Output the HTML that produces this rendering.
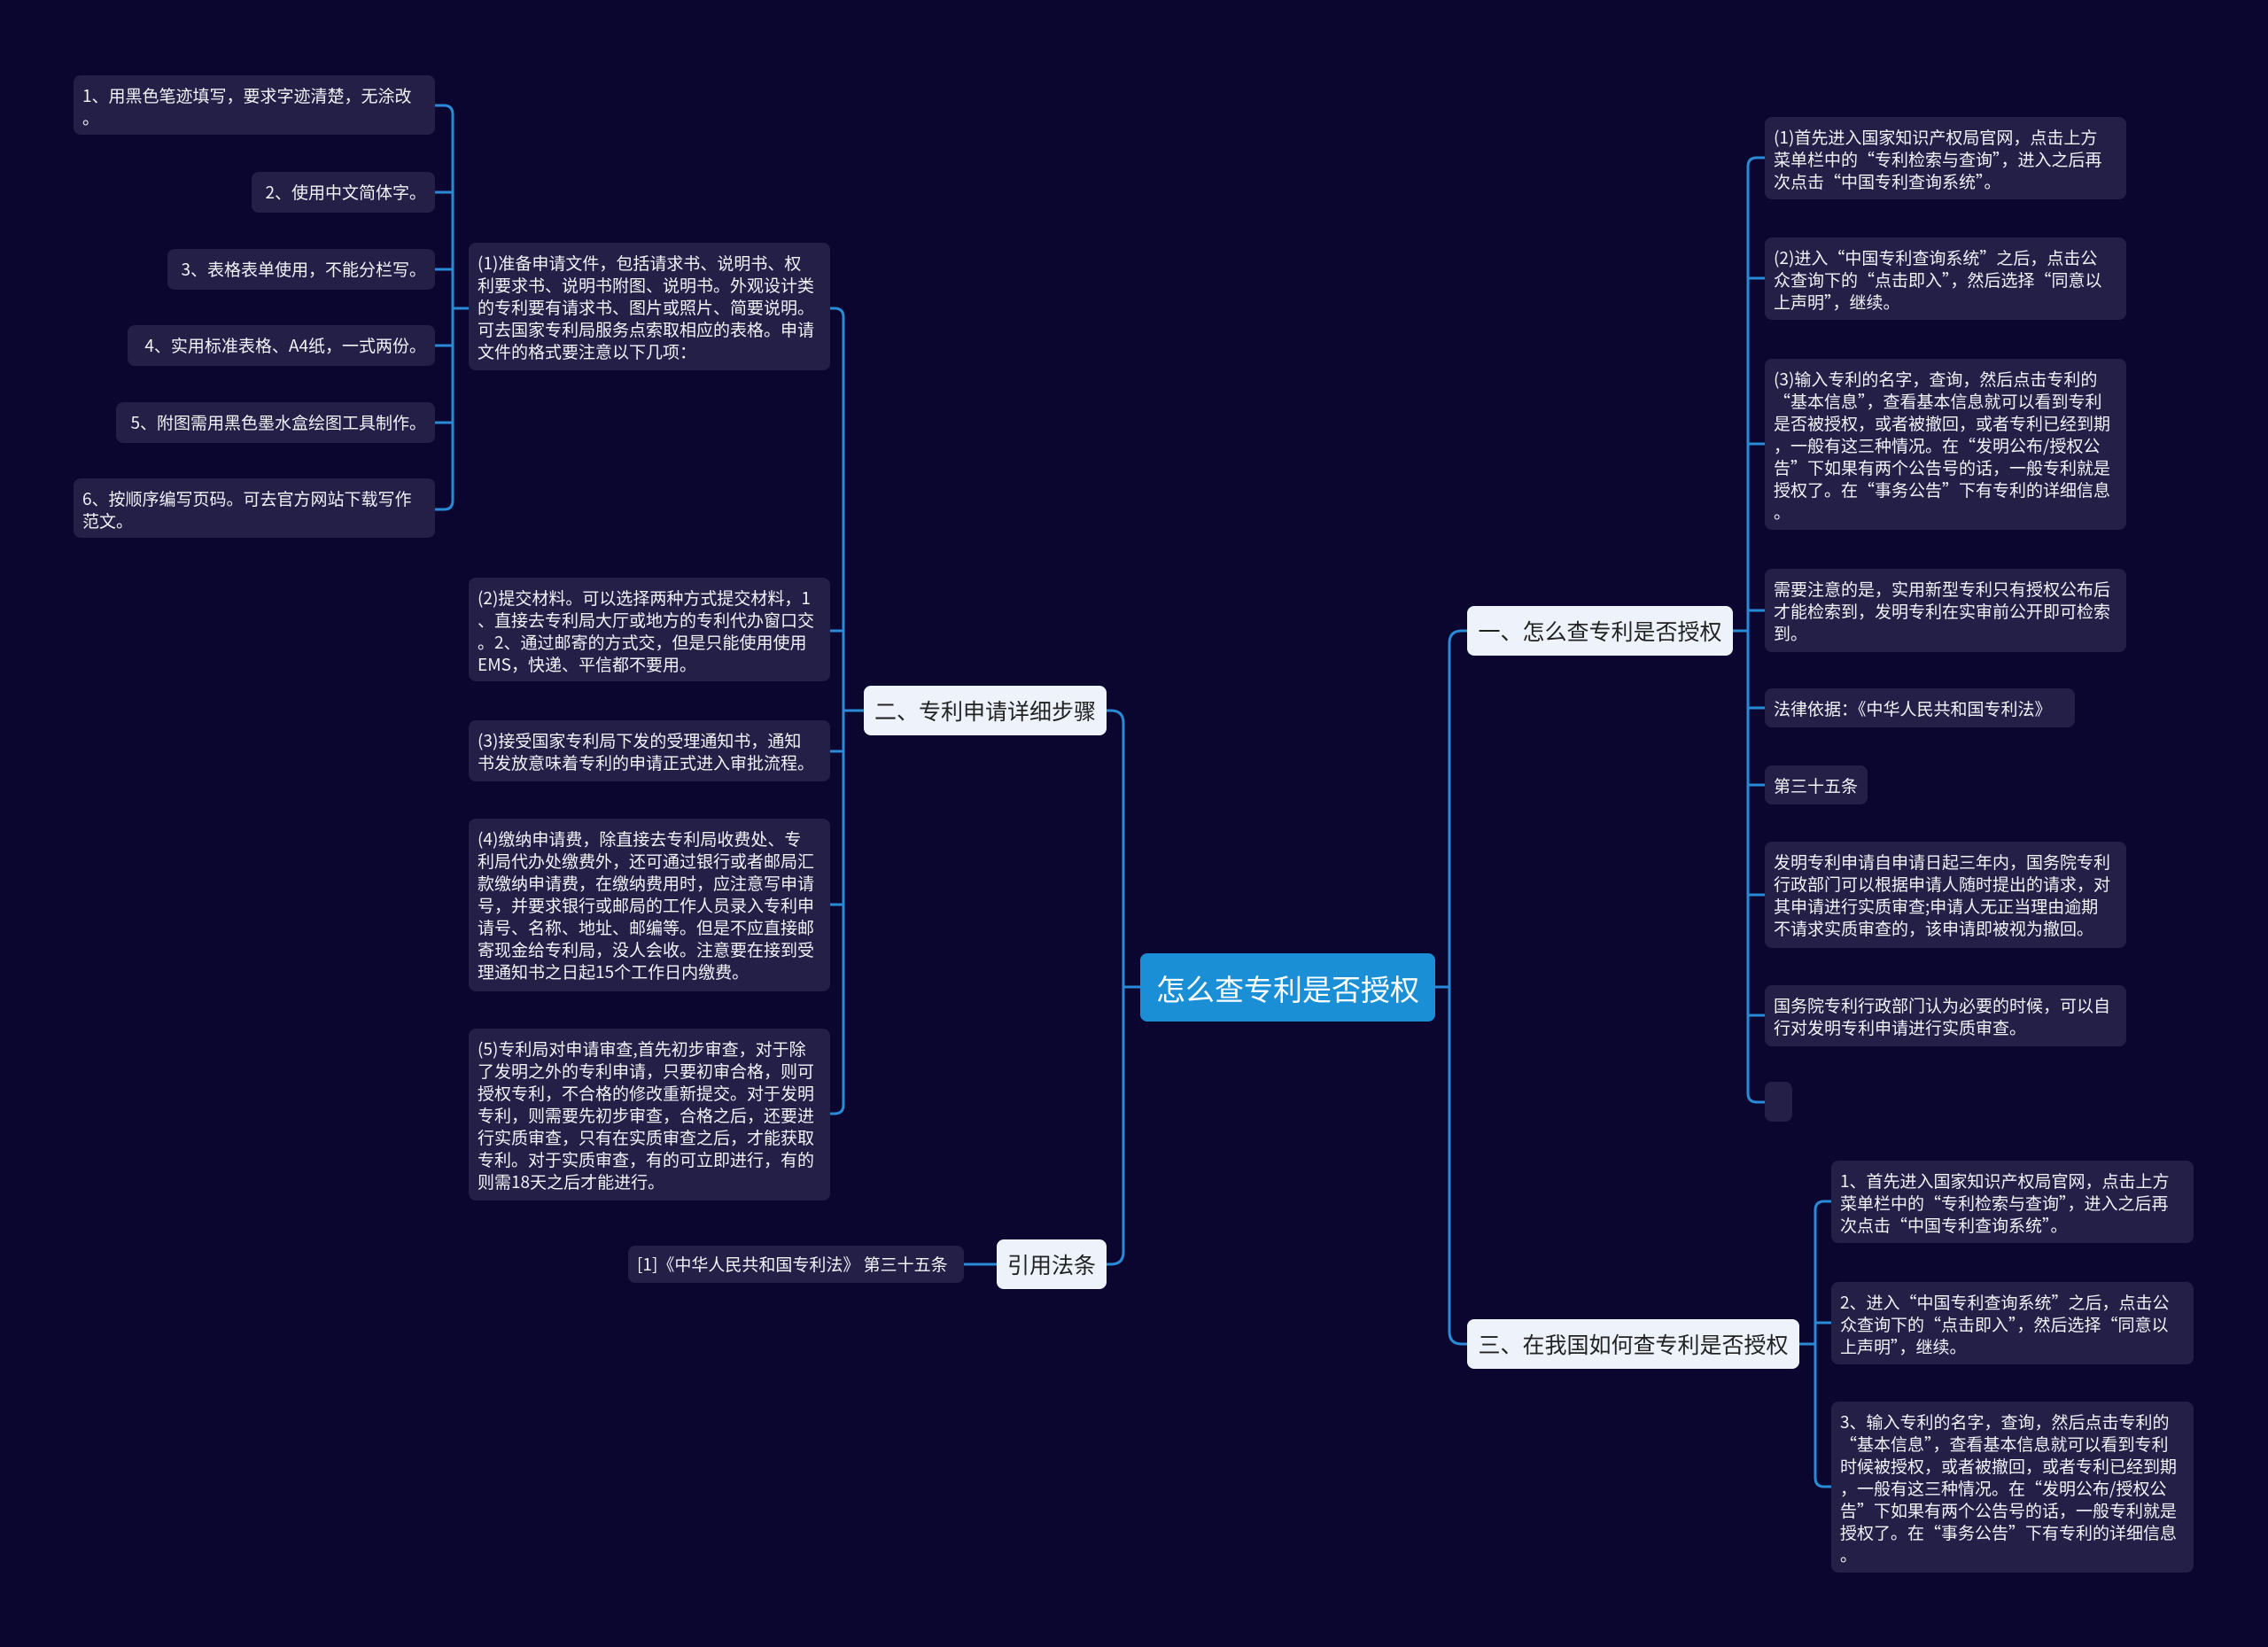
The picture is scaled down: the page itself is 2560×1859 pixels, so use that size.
<!DOCTYPE html>
<html><head><meta charset="utf-8"><style>
body{margin:0;width:2560px;height:1859px;background:#0a0630;overflow:hidden;position:relative;font-family:"Noto Sans CJK SC","Liberation Sans",sans-serif}
.n{position:absolute;box-sizing:border-box;background:#231f47;color:#f2f2f8;font-size:19px;line-height:25px;padding:10px 10px 8px;border-radius:8px;white-space:nowrap;overflow:hidden}
.r{text-align:right}
.b{position:absolute;box-sizing:border-box;background:#eef3fb;color:#222;font-size:25px;border-radius:8px;display:flex;align-items:center;justify-content:center;white-space:nowrap}
svg{position:absolute;left:0;top:0}
</style></head><body>
<svg width="2560" height="1859" fill="none" stroke="#2a8ad6" stroke-width="3">
<path d="M1620 1114 H1636 M1656 712 H1650 Q1636 712 1636 726 V1503 Q1636 1517 1650 1517 H1656"/>
<path d="M1287 1114 H1268 M1249 802 H1254 Q1268 802 1268 816 V1413 Q1268 1427 1254 1427 H1249"/>
<path d="M975 802 H952 M937 348 H942 Q952 348 952 358 V1247 Q952 1257 942 1257 H937 M937 712 H952 M937 848 H952 M937 1021 H952"/>
<path d="M529 348 H511 M491 119 H501 Q511 119 511 129 V565 Q511 575 501 575 H491 M491 217 H511 M491 304 H511 M491 390 H511 M491 477 H511"/>
<path d="M1088 1427 H1125"/>
<path d="M1956 712 H1973 M1992 178 H1983 Q1973 178 1973 188 V1234 Q1973 1244 1983 1244 H1992 M1992 314 H1973 M1992 501 H1973 M1992 689 H1973 M1992 799 H1973 M1992 886 H1973 M1992 1010 H1973 M1992 1146 H1973"/>
<path d="M2031 1517 H2049 M2067 1356 H2059 Q2049 1356 2049 1366 V1668 Q2049 1678 2059 1678 H2067 M2067 1493 H2049"/>
</svg>

<div class="b" style="left:1287px;top:1076px;width:333px;height:77px;background:#1a8fd6;color:#fff;font-size:33px">怎么查专利是否授权</div>
<div class="b" style="left:1656px;top:684px;width:300px;height:56px">一、怎么查专利是否授权</div>
<div class="b" style="left:1656px;top:1489px;width:375px;height:56px">三、在我国如何查专利是否授权</div>
<div class="b" style="left:975px;top:774px;width:274px;height:56px">二、专利申请详细步骤</div>
<div class="b" style="left:1125px;top:1399px;width:124px;height:56px">引用法条</div>

<div class="n" style="left:529px;top:274px;width:408px;height:144px">(1)准备申请文件，包括请求书、说明书、权<br>利要求书、说明书附图、说明书。外观设计类<br>的专利要有请求书、图片或照片、简要说明。<br>可去国家专利局服务点索取相应的表格。申请<br>文件的格式要注意以下几项：</div>
<div class="n" style="left:83px;top:85px;width:408px;height:67px">1、用黑色笔迹填写，要求字迹清楚，无涂改<br>。</div>
<div class="n r" style="left:284px;top:194px;width:207px;height:46px">2、使用中文简体字。</div>
<div class="n r" style="left:189px;top:281px;width:302px;height:46px">3、表格表单使用，不能分栏写。</div>
<div class="n r" style="left:144px;top:367px;width:347px;height:46px">4、实用标准表格、A4纸，一式两份。</div>
<div class="n r" style="left:131px;top:454px;width:360px;height:46px">5、附图需用黑色墨水盒绘图工具制作。</div>
<div class="n" style="left:83px;top:540px;width:408px;height:67px">6、按顺序编写页码。可去官方网站下载写作<br>范文。</div>
<div class="n" style="left:529px;top:652px;width:408px;height:117px">(2)提交材料。可以选择两种方式提交材料，1<br>、直接去专利局大厅或地方的专利代办窗口交<br>。2、通过邮寄的方式交，但是只能使用使用<br>EMS，快递、平信都不要用。</div>
<div class="n" style="left:529px;top:813px;width:408px;height:69px">(3)接受国家专利局下发的受理通知书，通知<br>书发放意味着专利的申请正式进入审批流程。</div>
<div class="n" style="left:529px;top:924px;width:408px;height:195px">(4)缴纳申请费，除直接去专利局收费处、专<br>利局代办处缴费外，还可通过银行或者邮局汇<br>款缴纳申请费，在缴纳费用时，应注意写申请<br>号，并要求银行或邮局的工作人员录入专利申<br>请号、名称、地址、邮编等。但是不应直接邮<br>寄现金给专利局，没人会收。注意要在接到受<br>理通知书之日起15个工作日内缴费。</div>
<div class="n" style="left:529px;top:1161px;width:408px;height:194px">(5)专利局对申请审查,首先初步审查，对于除<br>了发明之外的专利申请，只要初审合格，则可<br>授权专利，不合格的修改重新提交。对于发明<br>专利，则需要先初步审查，合格之后，还要进<br>行实质审查，只有在实质审查之后，才能获取<br>专利。对于实质审查，有的可立即进行，有的<br>则需18天之后才能进行。</div>
<div class="n" style="left:709px;top:1406px;width:379px;height:42px;padding-top:8px">[1]《中华人民共和国专利法》 第三十五条</div>

<div class="n" style="left:1992px;top:132px;width:408px;height:93px">(1)首先进入国家知识产权局官网，点击上方<br>菜单栏中的“专利检索与查询”，进入之后再<br>次点击“中国专利查询系统”。</div>
<div class="n" style="left:1992px;top:268px;width:408px;height:93px">(2)进入“中国专利查询系统”之后，点击公<br>众查询下的“点击即入”，然后选择“同意以<br>上声明”，继续。</div>
<div class="n" style="left:1992px;top:405px;width:408px;height:193px">(3)输入专利的名字，查询，然后点击专利的<br>“基本信息”，查看基本信息就可以看到专利<br>是否被授权，或者被撤回，或者专利已经到期<br>，一般有这三种情况。在“发明公布/授权公<br>告”下如果有两个公告号的话，一般专利就是<br>授权了。在“事务公告”下有专利的详细信息<br>。</div>
<div class="n" style="left:1992px;top:642px;width:408px;height:94px">需要注意的是，实用新型专利只有授权公布后<br>才能检索到，发明专利在实审前公开即可检索<br>到。</div>
<div class="n" style="left:1992px;top:777px;width:350px;height:44px">法律依据：《中华人民共和国专利法》</div>
<div class="n" style="left:1992px;top:864px;width:116px;height:44px">第三十五条</div>
<div class="n" style="left:1992px;top:950px;width:408px;height:120px">发明专利申请自申请日起三年内，国务院专利<br>行政部门可以根据申请人随时提出的请求，对<br>其申请进行实质审查;申请人无正当理由逾期<br>不请求实质审查的，该申请即被视为撤回。</div>
<div class="n" style="left:1992px;top:1112px;width:408px;height:69px">国务院专利行政部门认为必要的时候，可以自<br>行对发明专利申请进行实质审查。</div>
<div class="n" style="left:1992px;top:1221px;width:31px;height:45px"></div>

<div class="n" style="left:2067px;top:1310px;width:409px;height:93px">1、首先进入国家知识产权局官网，点击上方<br>菜单栏中的“专利检索与查询”，进入之后再<br>次点击“中国专利查询系统”。</div>
<div class="n" style="left:2067px;top:1447px;width:409px;height:93px">2、进入“中国专利查询系统”之后，点击公<br>众查询下的“点击即入”，然后选择“同意以<br>上声明”，继续。</div>
<div class="n" style="left:2067px;top:1582px;width:409px;height:193px">3、输入专利的名字，查询，然后点击专利的<br>“基本信息”，查看基本信息就可以看到专利<br>时候被授权，或者被撤回，或者专利已经到期<br>，一般有这三种情况。在“发明公布/授权公<br>告”下如果有两个公告号的话，一般专利就是<br>授权了。在“事务公告”下有专利的详细信息<br>。</div>
</body></html>
